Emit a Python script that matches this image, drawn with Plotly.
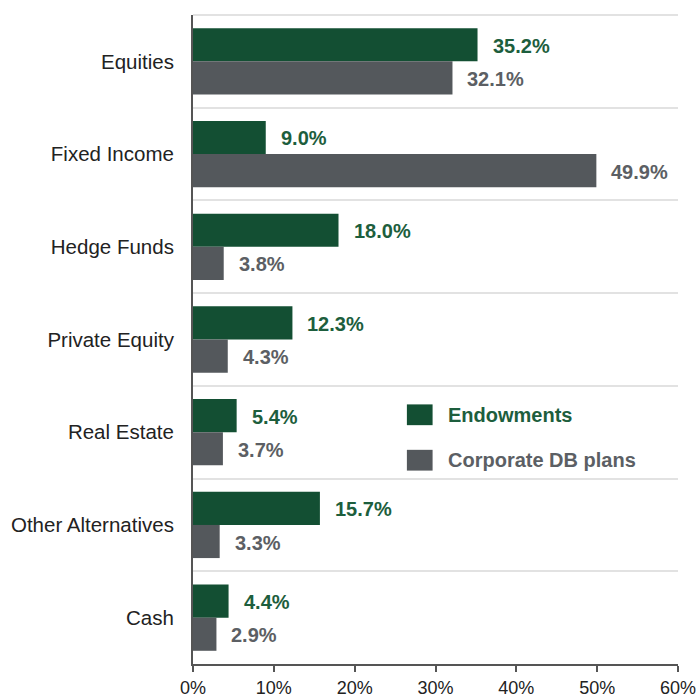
import plotly.graph_objects as go

# Asset allocation: endowments vs corporate defined-benefit plans (%)
categories = ["Equities", "Fixed Income", "Hedge Funds", "Private Equity",
              "Real Estate", "Other Alternatives", "Cash"]
endowments = [35.2, 9.0, 18.0, 12.3, 5.4, 15.7, 4.4]
corporate_db = [32.1, 49.9, 3.8, 4.3, 3.7, 3.3, 2.9]
series_names = ["Endowments", "Corporate DB plans"]
x_ticks = [0, 10, 20, 30, 40, 50, 60]

GREEN = "#134f33"
GRAY = "#54585c"
GREEN_TXT = "#1d5e3d"
GRAY_TXT = "#5c5f64"
FONT = "Liberation Sans, Arial, sans-serif"

fig = go.Figure()
fig.add_trace(go.Bar(y=categories, x=endowments, orientation="h",
                     name=series_names[0], marker_color=GREEN,
                     marker_line_width=0))
fig.add_trace(go.Bar(y=categories, x=corporate_db, orientation="h",
                     name=series_names[1], marker_color=GRAY,
                     marker_line_width=0))

# value labels just past the end of each bar
annotations = []
for i, cat in enumerate(categories):
    for vals, color, off in ((endowments, GREEN_TXT, -0.18),
                             (corporate_db, GRAY_TXT, 0.18)):
        annotations.append(dict(
            x=vals[i], y=i + off, xref="x", yref="y",
            text=f"<b>{vals[i]:.1f}%</b>", showarrow=False,
            xanchor="left", yanchor="middle", xshift=13, yshift=-1,
            font=dict(family=FONT, size=20, color=color)))

# legend drawn as swatches and bold coloured labels
legend_rows = [(series_names[0], GREEN, GREEN_TXT, 0.384),
               (series_names[1], GRAY, GRAY_TXT, 0.314)]
shapes = []
for name, fill, txt, yc in legend_rows:
    shapes.append(dict(type="rect", xref="paper", yref="paper",
                       x0=0.441, x1=0.494, y0=yc - 0.016, y1=yc + 0.016,
                       fillcolor=fill, line_width=0))
    annotations.append(dict(x=0.521, y=yc, xref="paper", yref="paper",
                            text=f"<b>{name}</b>", showarrow=False,
                            xanchor="left", yanchor="middle",
                            font=dict(family=FONT, size=20, color=txt)))

# top separator line above the first category
shapes.append(dict(type="line", xref="paper", yref="paper",
                   x0=0, x1=1, y0=1, y1=1,
                   line=dict(color="#e2e2e2", width=2), layer="below"))

fig.update_layout(
    width=699, height=698,
    margin=dict(l=193, r=21, t=15, b=34),
    paper_bgcolor="white", plot_bgcolor="white",
    barmode="group", bargap=0.285, bargroupgap=0,
    showlegend=False,
    font=dict(family=FONT, size=19, color="#222222"),
    annotations=annotations, shapes=shapes,
    xaxis=dict(range=[0, 60], tickvals=x_ticks,
               ticktext=[f"{t}%" for t in x_ticks],
               showgrid=False, zeroline=False, automargin=False,
               showline=True, linecolor="#555555", linewidth=2,
               ticks="outside", ticklen=6, tickwidth=2, tickcolor="#555555",
               ticklabelstandoff=0,
               tickfont=dict(family=FONT, size=18, color="#222222")),
    yaxis=dict(categoryorder="array", categoryarray=categories,
               autorange="reversed", tickson="boundaries", automargin=False,
               showgrid=True, gridcolor="#e2e2e2", gridwidth=2,
               showline=True, linecolor="#555555", linewidth=2,
               ticks="", ticklabelstandoff=13,
               tickfont=dict(family=FONT, size=20.5, color="#222222")),
)

fig.write_html("out.html")
